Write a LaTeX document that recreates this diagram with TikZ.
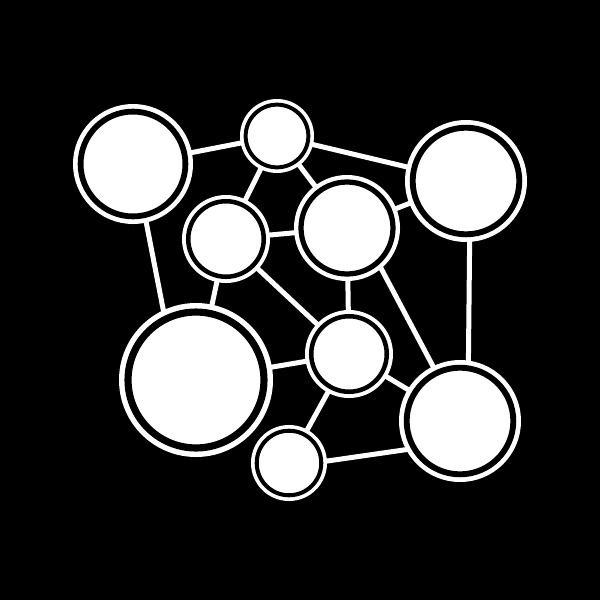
\documentclass[tikz,border=0pt]{standalone}
\pgfdeclarelayer{background}
\pgfsetlayers{background,main}
\tikzset{
  hub/.style={circle, inner sep=0pt, outer sep=0pt, fill=white, draw=black,
    line width={(1+0.08*#1)*1pt},
    minimum size={2*(#1-(2+0.045*#1)-(1+0.08*#1)/2)*1pt},
    preaction={draw=white, line width={(2*(2+0.045*#1)+(1+0.08*#1))*1pt}}},
  link/.style={draw=white, line width=5pt}
}
\begin{document}
\begin{tikzpicture}[x=1pt,y=-1pt]
\useasboundingbox (0,0) rectangle (600,600);
\begin{pgfonlayer}{background}
\fill[black] (0,0) rectangle (600,600);
\end{pgfonlayer}
\node[hub=60] (n1) at (133,164) {};
\node[hub=37] (n2) at (277,136) {};
\node[hub=61] (n3) at (466,181) {};
\node[hub=44] (n4) at (226,239) {};
\node[hub=53] (n5) at (347,228) {};
\node[hub=77] (n6) at (196,380) {};
\node[hub=44] (n7) at (349,354) {};
\node[hub=61] (n8) at (460,421) {};
\node[hub=38] (n9) at (289,463) {};
\begin{pgfonlayer}{background}
\draw[link] (n1) -- (n2);
\draw[link] (n1.-77) -- (n6.117);
\draw[link] (n2) -- (n3);
\draw[link] (n2) -- (n4);
\draw[link] (n2) -- (n5);
\draw[link] (n4) -- (n5);
\draw[link] (n3) -- (n5);
\draw[link] (n3.-86) -- (n8.81);
\draw[link] (n4) -- (n6);
\draw[link] (n4) -- (n7);
\draw[link] (n5) -- (n7);
\draw[link] (n5.-48) -- (n8.116);
\draw[link] (n6) -- (n7);
\draw[link] (n7) -- (n8);
\draw[link] (n7) -- (n9);
\draw[link] (n9.2) -- (n8.211);
\end{pgfonlayer}
\end{tikzpicture}
\end{document}
